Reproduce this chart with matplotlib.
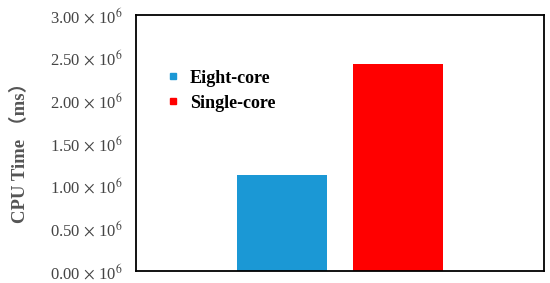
import numpy as np
import matplotlib.pyplot as plt
from matplotlib.lines import Line2D

cores = ["Eight-core", "Single-core"]
cpu_time = [1.13e6, 2.43e6]
colors = ["#1b98d5", "#ff0000"]
y_ticks = [0, 0.5e6, 1.0e6, 1.5e6, 2.0e6, 2.5e6, 3.0e6]

plt.rcParams["font.family"] = "Liberation Serif"
plt.rcParams["mathtext.fontset"] = "stix"

fig = plt.figure(figsize=(5.5, 2.83), dpi=100)
ax = fig.add_axes([0.247, 0.042, 0.742, 0.905])

x = np.arange(len(cores))
ax.bar(x, cpu_time, width=0.776, color=colors)
ax.set_xlim(-1.259, 2.259)
ax.set_ylim(0, 3.0e6)

ax.set_xticks([])
ax.set_yticks(y_ticks)
ax.set_yticklabels(["%.2f$\\,\\times\\,$10$^{6}$" % (v / 1e6) for v in y_ticks],
                   fontsize=12, color="#444444")
ax.tick_params(axis="y", length=0, pad=9)
for s in ax.spines.values():
    s.set_linewidth(1.3)
    s.set_color("black")

ax.set_ylabel("CPU Time （ms）", fontsize=13.5, fontweight="bold", color="#555555",
              family=["Liberation Serif", "Noto Sans CJK SC"])
ax.yaxis.set_label_coords(-0.262, 0.48)

handles = [Line2D([], [], marker="s", linestyle="", color=c, markersize=5)
           for c in colors]
leg = ax.legend(handles, cores, loc="upper left", bbox_to_anchor=(0.03, 0.85),
                frameon=False, handlelength=1.0, handletextpad=0.4,
                labelspacing=0.45, prop={"weight": "bold", "size": 13})

fig.savefig("out.png", dpi=100)
